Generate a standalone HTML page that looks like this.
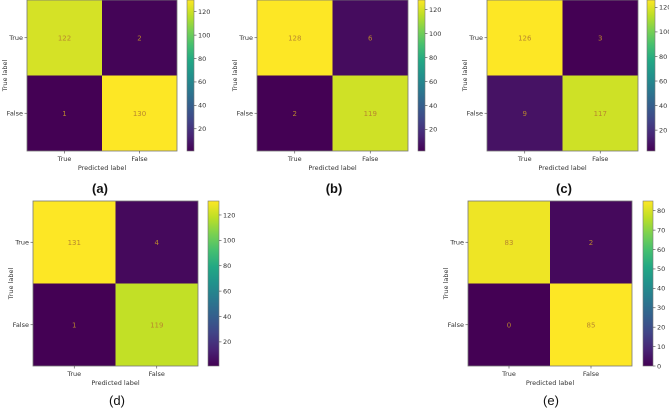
<!DOCTYPE html>
<html><head><meta charset="utf-8"><style>
html,body{margin:0;padding:0;background:#fff;width:669px;height:411px;overflow:hidden}
svg text{font-family:"DejaVu Sans","Liberation Sans",sans-serif}
svg text.cap{font-family:"Liberation Sans",sans-serif}
</style></head><body>
<svg id="fig" width="669" height="411" viewBox="0 0 669 411" xmlns="http://www.w3.org/2000/svg"></svg>
<script>
const classLabels = ["True", "False"];
const matA = [[122, 2], [1, 130]];
const matB = [[128, 6], [2, 119]];
const matC = [[126, 3], [9, 117]];
const matD = [[131, 4], [1, 119]];
const matE = [[83, 2], [0, 85]];
const ticksABCD = [20, 40, 60, 80, 100, 120];
const ticksE = [0, 10, 20, 30, 40, 50, 60, 70, 80];
const panelNames = ["(a)", "(b)", "(c)", "(d)", "(e)"];

const panels = [
  {id:"a", m:matA, t:ticksABCD, x0:27, x1:177, y0:0, y1:151, cb0:187, cb1:194, lx:100, ly:193},
  {id:"b", m:matB, t:ticksABCD, x0:257, x1:408, y0:0, y1:151, cb0:418, cb1:425, lx:334, ly:193},
  {id:"c", m:matC, t:ticksABCD, x0:487, x1:638, y0:0, y1:151, cb0:647, cb1:655, lx:564, ly:193},
  {id:"d", m:matD, t:ticksABCD, x0:33, x1:198, y0:201, y1:366, cb0:208, cb1:219, lx:117, ly:405},
  {id:"e", m:matE, t:ticksE, x0:468, x1:632, y0:201, y1:366, cb0:643, cb1:653, lx:551, ly:405}
];

const vir = ["#440154","#482475","#414487","#355f8d","#2a788e","#21918c","#22a884","#44bf70","#7ad151","#bddf26","#fde725"];
function hex(h){return [1,3,5].map(i=>parseInt(h.substr(i,2),16));}
function viridis(t){
  t=Math.max(0,Math.min(1,t));
  const f=t*10, i=Math.min(9,Math.floor(f)), r=f-i;
  const a=hex(vir[i]), b=hex(vir[i+1]);
  return "rgb("+a.map((v,k)=>Math.round(v+(b[k]-v)*r)).join(",")+")";
}
const NS="http://www.w3.org/2000/svg";
const svg=document.getElementById("fig");
function el(tag,attrs,parent){
  const e=document.createElementNS(NS,tag);
  for(const k in attrs)e.setAttribute(k,attrs[k]);
  (parent||svg).appendChild(e);return e;
}

panels.forEach((p,pi)=>{
  const g=el("g",{});
  
  
  const vals=p.m.flat(), vmin=Math.min(...vals), vmax=Math.max(...vals);
  const n=p.m.length, cw=(p.x1-p.x0)/n, ch=(p.y1-p.y0)/n;
  const xs=i=>p.x0+i*cw, ys=j=>p.y0+j*ch;
  p.m.forEach((row,r)=>row.forEach((v,c)=>{
    const rc=el("rect",{x:xs(c),y:ys(r),width:cw,height:ch,fill:viridis((v-vmin)/(vmax-vmin))},g);
    
    
    const tx=el("text",{x:xs(c)+cw/2,y:ys(r)+ch/2+2.5,"text-anchor":"middle","font-size":"7","fill":"#b8862e"},g);
    tx.textContent=v;
    
    
  }));
  el("rect",{x:p.x0,y:p.y0,width:p.x1-p.x0,height:p.y1-p.y0,fill:"none",stroke:"#777","stroke-width":"0.8"},g);
  classLabels.forEach((lab,i)=>{
    const ty=ys(i)+ch/2;
    el("line",{x1:p.x0-2.5,x2:p.x0,y1:ty,y2:ty,stroke:"#444","stroke-width":"0.6"},g);
    const yl=el("text",{x:p.x0-4,y:ty+2.3,"text-anchor":"end","font-size":"6.5",fill:"#333"},g);
    yl.textContent=lab;
    
    
    const tx=xs(i)+cw/2;
    el("line",{x1:tx,x2:tx,y1:p.y1,y2:p.y1+2.5,stroke:"#444","stroke-width":"0.6"},g);
    const xl=el("text",{x:tx,y:p.y1+10,"text-anchor":"middle","font-size":"6.5",fill:"#333"},g);
    xl.textContent=lab;
    
    
  });
  const xt=el("text",{x:(p.x0+p.x1)/2,y:p.y1+19,"text-anchor":"middle","font-size":"6.5",fill:"#333"},g);
  xt.textContent="Predicted label";
  
  
  const yx=p.x0-20, ymid=(p.y0+p.y1)/2;
  const yt=el("text",{x:yx,y:ymid,"text-anchor":"middle","font-size":"6.5",fill:"#333",transform:"rotate(-90 "+yx+" "+ymid+")"},g);
  yt.textContent="True label";
  
  
  const gid="grad"+p.id;
  const lg=el("linearGradient",{id:gid,x1:"0",y1:"1",x2:"0",y2:"0"},g);
  vir.forEach((c,i)=>el("stop",{offset:(i*10)+"%","stop-color":c},lg));
  const cb=el("rect",{x:p.cb0,y:p.y0,width:p.cb1-p.cb0,height:p.y1-p.y0,fill:"url(#"+gid+")",stroke:"#777","stroke-width":"0.6"},g);
  
  
  const cy=v=>p.y1-(v-vmin)/(vmax-vmin)*(p.y1-p.y0);
  p.t.forEach(v=>{
    const y=cy(v);
    el("line",{x1:p.cb1,x2:p.cb1+2.5,y1:y,y2:y,stroke:"#444","stroke-width":"0.6"},g);
    const tl=el("text",{x:p.cb1+4,y:y+2.3,"font-size":"6.5",fill:"#333"},g);
    tl.textContent=v;
    
    
  });
  const cap=el("text",{class:"cap",x:p.lx,y:p.ly,"text-anchor":"middle","font-size":"13","font-weight":pi<3?"bold":"normal",fill:"#111"},g);
  cap.textContent=panelNames[pi];
  
  
});
</script>
</body></html>
